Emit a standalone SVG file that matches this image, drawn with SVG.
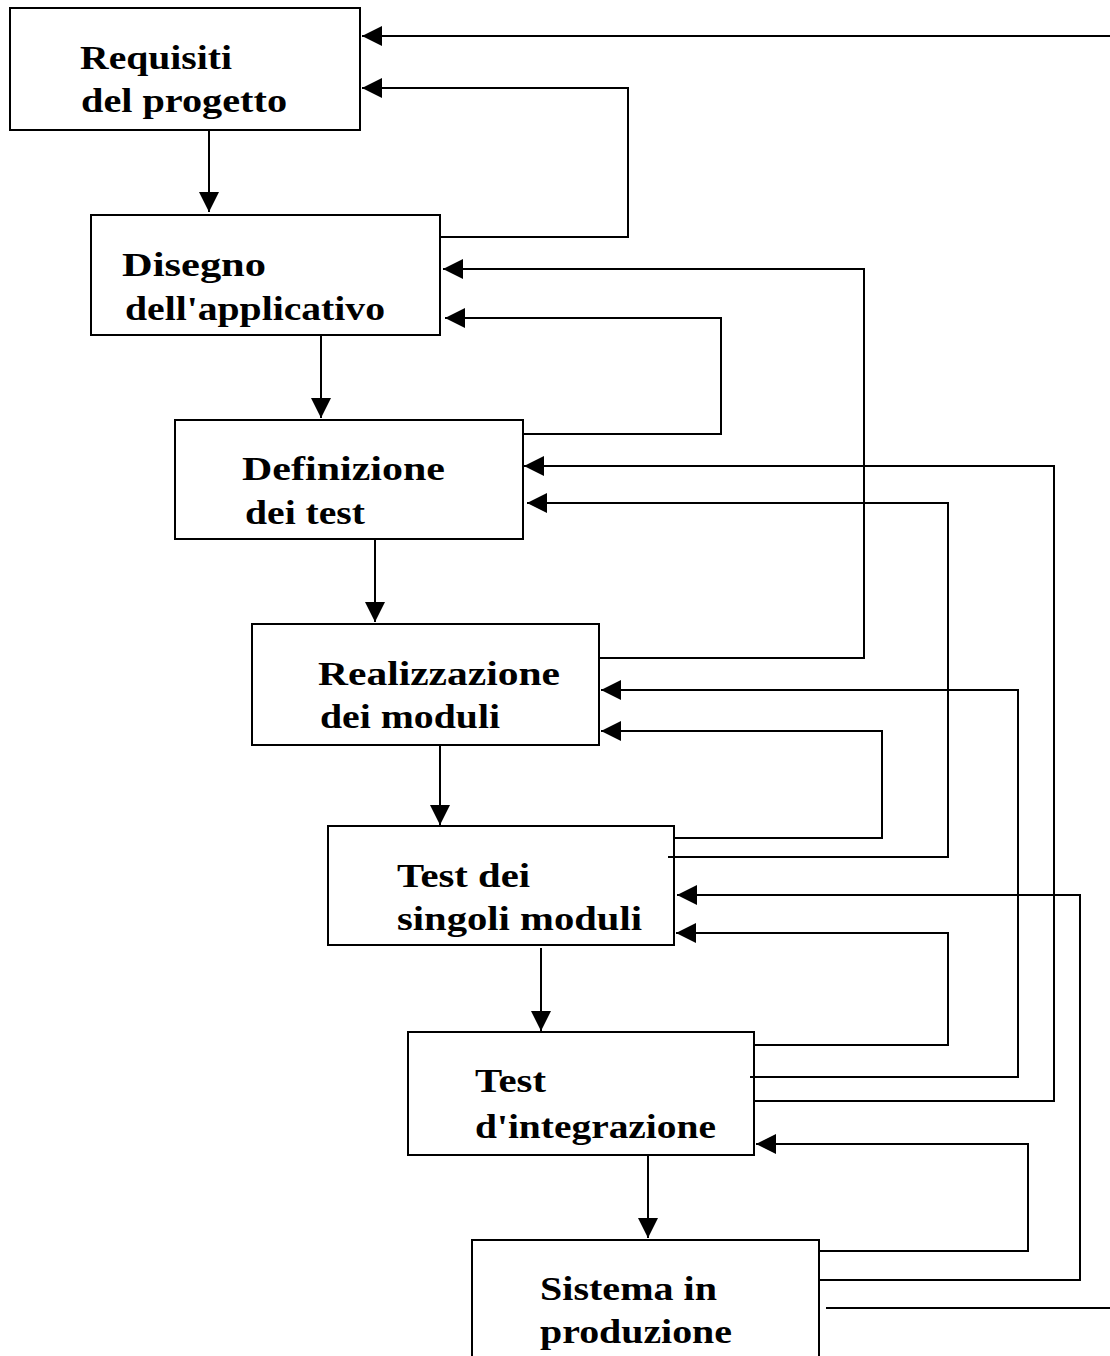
<svg xmlns="http://www.w3.org/2000/svg" width="1110" height="1356" viewBox="0 0 1110 1356">
<defs>
<marker id="ah" viewBox="0 0 10 10" refX="10" refY="5" markerWidth="20" markerHeight="20" markerUnits="userSpaceOnUse" orient="auto">
<path d="M0,0 L10,5 L0,10 Z" fill="#000"/>
</marker>
</defs>
<style>
.box{fill:#fff;stroke:#000;stroke-width:2}
.t{font-family:"Liberation Serif","Times New Roman",serif;font-size:33px;font-weight:bold;fill:#000}
.c{fill:none;stroke:#000;stroke-width:2}
</style>
<rect width="1110" height="1356" fill="#fff"/>
<g id="n1"><rect class="box" x="10" y="8" width="350" height="122"/>
<text class="t" x="80" y="69" textLength="152" lengthAdjust="spacingAndGlyphs">Requisiti</text>
<text class="t" x="81" y="112" textLength="206" lengthAdjust="spacingAndGlyphs">del progetto</text></g>
<g id="n2"><rect class="box" x="91" y="215" width="349" height="120"/>
<text class="t" x="122" y="276" textLength="144" lengthAdjust="spacingAndGlyphs">Disegno</text>
<text class="t" x="125" y="320" textLength="260" lengthAdjust="spacingAndGlyphs">dell'applicativo</text></g>
<g id="n3"><rect class="box" x="175" y="420" width="348" height="119"/>
<text class="t" x="242" y="480" textLength="203" lengthAdjust="spacingAndGlyphs">Definizione</text>
<text class="t" x="245" y="524" textLength="120" lengthAdjust="spacingAndGlyphs">dei test</text></g>
<g id="n4"><rect class="box" x="252" y="624" width="347" height="121"/>
<text class="t" x="318" y="685" textLength="242" lengthAdjust="spacingAndGlyphs">Realizzazione</text>
<text class="t" x="320" y="728" textLength="180" lengthAdjust="spacingAndGlyphs">dei moduli</text></g>
<g id="n5"><rect class="box" x="328" y="826" width="346" height="119"/>
<text class="t" x="397" y="887" textLength="133" lengthAdjust="spacingAndGlyphs">Test dei</text>
<text class="t" x="397" y="930" textLength="245" lengthAdjust="spacingAndGlyphs">singoli moduli</text></g>
<g id="n6"><rect class="box" x="408" y="1032" width="346" height="123"/>
<text class="t" x="475" y="1092" textLength="71" lengthAdjust="spacingAndGlyphs">Test</text>
<text class="t" x="475" y="1138" textLength="241" lengthAdjust="spacingAndGlyphs">d'integrazione</text></g>
<g id="n7"><rect class="box" x="472" y="1240" width="347" height="130"/>
<text class="t" x="540" y="1300" textLength="177" lengthAdjust="spacingAndGlyphs">Sistema in</text>
<text class="t" x="540" y="1343" textLength="192" lengthAdjust="spacingAndGlyphs">produzione</text></g>
<g id="connectors">
<path class="c" d="M209,130 V212" marker-end="url(#ah)"/>
<path class="c" d="M321,335 V418" marker-end="url(#ah)"/>
<path class="c" d="M375,539 V622" marker-end="url(#ah)"/>
<path class="c" d="M440,745 V825" marker-end="url(#ah)"/>
<path class="c" d="M541,948 V1031" marker-end="url(#ah)"/>
<path class="c" d="M648,1155 V1238" marker-end="url(#ah)"/>
<path class="c" d="M826,1308 H1125 V36 H362" marker-end="url(#ah)"/>
<path class="c" d="M440,237 H628 V88 H362" marker-end="url(#ah)"/>
<path class="c" d="M599,658 H864 V269 H443" marker-end="url(#ah)"/>
<path class="c" d="M523,434 H721 V318 H445" marker-end="url(#ah)"/>
<path class="c" d="M754,1101 H1054 V466 H524" marker-end="url(#ah)"/>
<path class="c" d="M668,857 H948 V503 H527" marker-end="url(#ah)"/>
<path class="c" d="M750,1077 H1018 V690 H601" marker-end="url(#ah)"/>
<path class="c" d="M674,838 H882 V731 H601" marker-end="url(#ah)"/>
<path class="c" d="M819,1280 H1080 V895 H677" marker-end="url(#ah)"/>
<path class="c" d="M754,1045 H948 V933 H676" marker-end="url(#ah)"/>
<path class="c" d="M819,1251 H1028 V1144 H756" marker-end="url(#ah)"/>
</g>
</svg>
